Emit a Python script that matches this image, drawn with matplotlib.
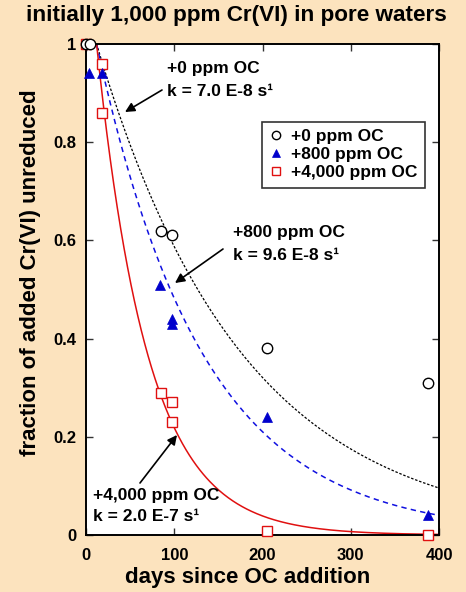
import numpy as np
import matplotlib
matplotlib.use("Agg")
import matplotlib.pyplot as plt

plt.rcParams['font.family'] = ['Liberation Sans', 'DejaVu Sans']
plt.rcParams['font.weight'] = 'bold'

# ---- data ----
days_0 = [0, 4, 85, 97, 205, 388]
frac_0 = [1.0, 1.0, 0.62, 0.61, 0.38, 0.31]

days_800 = [3, 18, 84, 98, 98, 205, 388]
frac_800 = [0.94, 0.94, 0.51, 0.44, 0.43, 0.24, 0.04]

days_4000 = [0, 18, 18, 85, 98, 98, 205, 388]
frac_4000 = [1.0, 0.96, 0.86, 0.29, 0.27, 0.23, 0.008, 0.0]

# first-order rate constants (s^-1) and lag (days) of the fitted curves
k_0, k_800, k_4000 = 7.0e-8, 9.6e-8, 2.0e-7
lag_days = 12

series_labels = ['+0 ppm OC', '+800 ppm OC', '+4,000 ppm OC']
x_ticks = [0, 100, 200, 300, 400]
y_ticks = [0, 0.2, 0.4, 0.6, 0.8, 1.0]
y_tick_labels = ['0', '0.2', '0.4', '0.6', '0.8', '1']

bg = '#FCE3BE'
W, H = 466, 592
fig = plt.figure(figsize=(W / 100, H / 100), dpi=100, facecolor=bg)
L, R, T, B = 86, 439, 44, 535
ax = fig.add_axes([L / W, 1 - B / H, (R - L) / W, (B - T) / H])
ax.set_facecolor('white')

t = np.linspace(lag_days, 400, 300)
def fit(k):
    return np.exp(-k * 86400 * (t - lag_days))

ax.plot(t, fit(k_0), color='black', lw=0.9, dashes=(2.0, 1.4))
ax.plot(t, fit(k_800), color='#1010E0', lw=1.1, dashes=(3.5, 2.8))
ax.plot(t, fit(k_4000), color='#E01010', lw=1.1)

ax.plot(days_0, frac_0, 'o', ms=7.5, mfc='white', mec='black', mew=1.0,
        clip_on=False, label=series_labels[0], zorder=5)
ax.plot(days_800, frac_800, '^', ms=6.5, mfc='#0000CC', mec='#0000CC', mew=0.5,
        clip_on=False, label=series_labels[1], zorder=5)
ax.plot(days_4000, frac_4000, 's', ms=7.5, mfc='white', mec='#E01010', mew=1.0,
        clip_on=False, label=series_labels[2], zorder=4)

ax.set_xlim(0, 400)
ax.set_ylim(0, 1)
ax.set_xticks(x_ticks)
ax.set_xticklabels([str(v) for v in x_ticks])
ax.set_yticks(y_ticks)
ax.set_yticklabels(y_tick_labels)
ax.tick_params(direction='in', length=5, width=1, top=True, right=True,
               labelsize=12, colors='#333333', labelcolor='black')
ax.tick_params(axis='y', pad=7)
ax.tick_params(axis='x', pad=9)
for s in ax.spines.values():
    s.set_linewidth(1.4)

fig.text(248 / W, 1 - 578 / H, 'days since OC addition', ha='center', va='center',
         fontsize=16, fontweight='bold')
fig.text(31 / W, 1 - 273 / H, 'fraction of added Cr(VI) unreduced', ha='center', va='center',
         rotation=90, fontsize=16, fontweight='bold')
fig.text(236 / W, 1 - 16 / H, 'initially 1,000 ppm Cr(VI) in pore waters',
         ha='center', va='center', fontsize=16.2, fontweight='bold')

leg = ax.legend(loc='upper left', bbox_to_anchor=((262 - L) / (R - L), 1 - (122 - T) / (B - T)),
                frameon=True, fancybox=False, fontsize=12.5, handlelength=0.8,
                handletextpad=0.45, labelspacing=0.16, borderpad=0.42, borderaxespad=0)
leg.get_frame().set_edgecolor('black')
leg.get_frame().set_linewidth(1.2)
for h in leg.legend_handles:
    h.set_markersize(6)

def px2data(px, py):
    return ((px - L) / (R - L) * 400, (B - py) / (B - T))

arrow = dict(arrowstyle='-|>', color='black', lw=1.2, mutation_scale=14, shrinkA=0, shrinkB=0)

ax.text(*px2data(167, 80), '+0 ppm OC\nk = 7.0 E-8 s¹', fontsize=12.5, fontweight='bold',
        va='center', ha='left', linespacing=1.75)
ax.annotate('', xy=px2data(125, 112), xytext=px2data(162, 90), arrowprops=arrow)

ax.text(*px2data(233, 244), '+800 ppm OC\nk = 9.6 E-8 s¹', fontsize=12.5, fontweight='bold',
        va='center', ha='left', linespacing=1.65)
ax.annotate('', xy=px2data(175, 283), xytext=px2data(223, 249), arrowprops=arrow)

ax.text(*px2data(93, 506), '+4,000 ppm OC\nk = 2.0 E-7 s¹', fontsize=12.5, fontweight='bold',
        va='center', ha='left', linespacing=1.55)
ax.annotate('', xy=px2data(177, 435), xytext=px2data(140, 483), arrowprops=arrow)

fig.savefig('out.png', dpi=100, facecolor=bg)
